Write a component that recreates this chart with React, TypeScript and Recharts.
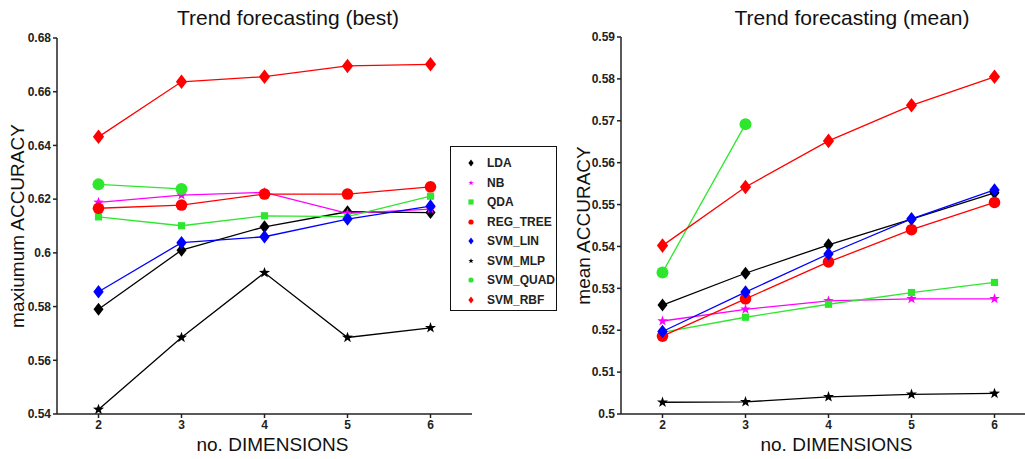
import React from 'react';
import { LineChart, Line, XAxis, YAxis } from 'recharts';

// x positions (number of dimensions)
const dims = [2, 3, 4, 5, 6];

// left panel: best accuracy
const bestLDA = [0.579, 0.601, 0.6097, 0.6153, 0.615];
const bestNB = [0.6188, 0.6215, 0.6225, 0.6147, 0.6163];
const bestQDA = [0.6134, 0.6101, 0.6138, 0.6135, 0.6211];
const bestREG = [0.6166, 0.6178, 0.6219, 0.6219, 0.6246];
const bestLIN = [0.5855, 0.6038, 0.606, 0.6126, 0.6174];
const bestMLP = [0.5417, 0.5685, 0.5926, 0.5685, 0.5721];
const bestQUAD = [0.6255, 0.6238, null, null, null];
const bestRBF = [0.6432, 0.6637, 0.6656, 0.6696, 0.6702];

// right panel: mean accuracy
const meanLDA = [0.526, 0.5336, 0.5404, 0.5465, 0.5528];
const meanNB = [0.5222, 0.525, 0.527, 0.5275, 0.5275];
const meanQDA = [0.5195, 0.5231, 0.5262, 0.529, 0.5314];
const meanREG = [0.5186, 0.5275, 0.5363, 0.544, 0.5505];
const meanLIN = [0.5197, 0.5291, 0.5382, 0.5466, 0.5535];
const meanMLP = [0.5028, 0.5029, 0.5041, 0.5047, 0.5049];
const meanQUAD = [0.5338, 0.5692, null, null, null];
const meanRBF = [0.5402, 0.5542, 0.5652, 0.5737, 0.5805];

const bestTicks = [0.54, 0.56, 0.58, 0.6, 0.62, 0.64, 0.66, 0.68];
const meanTicks = [0.5, 0.51, 0.52, 0.53, 0.54, 0.55, 0.56, 0.57, 0.58, 0.59];

const FONT = '"Liberation Sans", Arial, Helvetica, sans-serif';
const GREEN = '#2ee62e';

type Shape = 'diamond' | 'star' | 'square' | 'circle';

interface Series {
  key: string;
  color: string;
  shape: Shape;
  size: number;
}

const series: Series[] = [
  { key: 'LDA', color: '#000000', shape: 'diamond', size: 5 },
  { key: 'NB', color: '#ff00ff', shape: 'star', size: 5.5 },
  { key: 'QDA', color: GREEN, shape: 'square', size: 3.6 },
  { key: 'REG_TREE', color: '#ff0000', shape: 'circle', size: 5.8 },
  { key: 'SVM_LIN', color: '#0000ff', shape: 'diamond', size: 5.2 },
  { key: 'SVM_MLP', color: '#000000', shape: 'star', size: 5.8 },
  { key: 'SVM_QUAD', color: GREEN, shape: 'circle', size: 6 },
  { key: 'SVM_RBF', color: '#ff0000', shape: 'diamond', size: 5.6 },
];

const buildRows = (cols: Record<string, (number | null)[]>) =>
  dims.map((d, i) => {
    const row: Record<string, number | null> = { dim: d };
    Object.keys(cols).forEach((k) => (row[k] = cols[k][i]));
    return row;
  });

const bestData = buildRows({
  LDA: bestLDA, NB: bestNB, QDA: bestQDA, REG_TREE: bestREG,
  SVM_LIN: bestLIN, SVM_MLP: bestMLP, SVM_QUAD: bestQUAD, SVM_RBF: bestRBF,
});
const meanData = buildRows({
  LDA: meanLDA, NB: meanNB, QDA: meanQDA, REG_TREE: meanREG,
  SVM_LIN: meanLIN, SVM_MLP: meanMLP, SVM_QUAD: meanQUAD, SVM_RBF: meanRBF,
});

function starPath(cx: number, cy: number, r: number) {
  const pts: string[] = [];
  for (let i = 0; i < 10; i++) {
    const rad = i % 2 === 0 ? r : r * 0.4;
    const a = -Math.PI / 2 + (i * Math.PI) / 5;
    pts.push(`${(cx + rad * Math.cos(a)).toFixed(2)},${(cy + rad * Math.sin(a)).toFixed(2)}`);
  }
  return 'M' + pts.join('L') + 'Z';
}

function marker(shape: Shape, cx: number, cy: number, s: number, color: string, key?: string) {
  if (shape === 'circle') return <circle key={key} cx={cx} cy={cy} r={s} fill={color} />;
  if (shape === 'square')
    return <rect key={key} x={cx - s} y={cy - s} width={s * 2} height={s * 2} fill={color} />;
  if (shape === 'star') return <path key={key} d={starPath(cx, cy, s)} fill={color} />;
  const h = s * 1.3;
  return <path key={key} d={`M${cx},${cy - h}L${cx + s},${cy}L${cx},${cy + h}L${cx - s},${cy}Z`} fill={color} />;
}

const makeDot = (s: Series) => (props: any) => {
  const { cx, cy, index } = props;
  const k = `${s.key}-${index}`;
  if (cx == null || cy == null || props.value == null) return <g key={k} />;
  return marker(s.shape, cx, cy, s.size, s.color, k);
};

const tickStyle = { fill: '#222', fontSize: 12, fontWeight: 700, fontFamily: FONT };
const labelStyle = { fill: '#111', fontSize: 19, fontFamily: FONT, textAnchor: 'middle' as const };

interface PanelProps {
  data: Record<string, number | null>[];
  domain: [number, number];
  ticks: number[];
  yLabel: string;
  width: number;
  yWidth: number;
  top: number;
  right: number;
  labelOffset: number;
}

const Panel: React.FC<PanelProps> = ({ data, domain, ticks, yLabel, width, yWidth, top, right, labelOffset }) => (
  <LineChart width={width} height={459} data={data} margin={{ top, right, bottom: 0, left: 0 }}>
    <XAxis
      dataKey="dim"
      type="number"
      domain={[1.5, 6.5]}
      ticks={dims}
      height={45}
      tickSize={4}
      tickMargin={2}
      stroke="#222"
      strokeWidth={1.5}
      tick={tickStyle}
      label={{ value: 'no. DIMENSIONS', position: 'insideBottom', offset: 8, dx: 8, style: labelStyle }}
    />
    <YAxis
      type="number"
      domain={domain}
      ticks={ticks}
      allowDataOverflow
      width={yWidth}
      tickSize={4}
      tickMargin={2}
      stroke="#222"
      strokeWidth={1.5}
      tick={tickStyle}
      tickFormatter={(v: number) => String(v)}
      label={{ value: yLabel, angle: -90, position: 'insideLeft', offset: labelOffset, style: labelStyle }}
    />
    {series.map((s) => (
      <Line
        key={s.key}
        dataKey={s.key}
        stroke={s.color}
        strokeWidth={1.3}
        dot={makeDot(s)}
        activeDot={false}
        isAnimationActive={false}
        connectNulls={false}
      />
    ))}
  </LineChart>
);

const titleStyle: React.CSSProperties = {
  position: 'absolute',
  top: 6,
  width: 400,
  textAlign: 'center',
  fontSize: 21,
  lineHeight: '24px',
  color: '#111',
  fontFamily: FONT,
};

export default function App() {
  return (
    <div
      style={{
        position: 'absolute',
        left: 0,
        top: 0,
        width: 1025,
        height: 459,
        overflow: 'hidden',
        background: '#fff',
        fontFamily: FONT,
      }}
    >
      <div style={{ ...titleStyle, left: 288 - 200 }}>Trend forecasting (best)</div>
      <div style={{ ...titleStyle, left: 852 - 200 }}>Trend forecasting (mean)</div>

      <div style={{ position: 'absolute', left: 0, top: 0 }}>
        <Panel
          data={bestData}
          domain={[0.54, 0.68]}
          ticks={bestTicks}
          yLabel="maxiumum ACCURACY"
          width={520}
          yWidth={57}
          top={38}
          right={48}
          labelOffset={17}
        />
      </div>
      <div style={{ position: 'absolute', left: 560, top: 0 }}>
        <Panel
          data={meanData}
          domain={[0.5, 0.59]}
          ticks={meanTicks}
          yLabel="mean ACCURACY"
          width={480}
          yWidth={61}
          top={37}
          right={4}
          labelOffset={23}
        />
      </div>

      {/* legend box */}
      <div
        style={{
          position: 'absolute',
          left: 450,
          top: 146,
          width: 105,
          height: 163,
          border: '1.5px solid #111',
          background: '#fff',
          boxSizing: 'content-box',
        }}
      >
        {series.map((s, i) => (
          <div
            key={s.key}
            style={{
              position: 'absolute',
              left: 0,
              top: 8 + i * 19.5,
              height: 16,
              display: 'flex',
              alignItems: 'center',
            }}
          >
            <svg width={36} height={16}>
              {marker(s.shape, 20, 8, s.shape === 'diamond' ? 2.6 : s.shape === 'star' ? 2.8 : 2.6, s.color)}
            </svg>
            <span style={{ fontSize: 12, fontWeight: 700, color: '#222' }}>{s.key}</span>
          </div>
        ))}
      </div>
    </div>
  );
}
